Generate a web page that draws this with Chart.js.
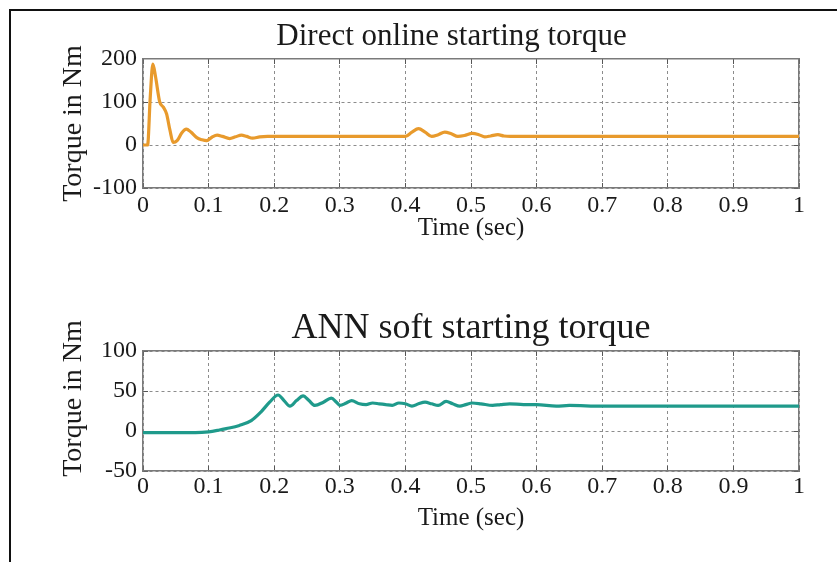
<!DOCTYPE html>
<html>
<head>
<meta charset="utf-8">
<script src="https://cdn.jsdelivr.net/npm/chart.js@4"></script>
<style>
    html, body { margin: 0; padding: 0; background: #fff; }
    #page { position: relative; width: 837px; height: 562px; overflow: hidden; }
    #frame { position: absolute; left: 9px; top: 9px; width: 840px; height: 560px;
             border-left: 2px solid #111; border-top: 2px solid #111; }
    canvas { position: absolute; left: 0; }
    #topCanvasId { top: 0; }
    #bottomCanvasId { top: 280px; }
</style>
</head>
<body>
<div id="page">
    <div id="frame"></div>
    <canvas id="topCanvasId" width="837" height="280"></canvas>
    <canvas id="bottomCanvasId" width="837" height="282"></canvas>
</div>
<script>
// direct online start
let directTime   = [0, 0.007, 0.011, 0.015, 0.019, 0.0255, 0.031, 0.036, 0.041, 0.046, 0.052, 0.059, 0.066, 0.073,
                    0.082, 0.09, 0.097, 0.105, 0.113, 0.121, 0.132, 0.141, 0.15, 0.158, 0.167, 0.178, 0.19, 0.3,
                    0.4, 0.41, 0.42, 0.43, 0.44, 0.45, 0.46, 0.47, 0.48, 0.49, 0.502, 0.512, 0.521, 0.53, 0.541,
                    0.55, 0.56, 0.7, 0.85, 1.0];
let directTorque = [0, 0, 110, 188, 160, 100, 88, 72, 35, 6, 10, 28, 37, 30,
                    17, 12, 10, 18, 23, 20, 15, 19, 23, 20, 16, 19, 20, 20,
                    20, 30, 38, 30, 20, 24, 30, 26, 20, 22, 27, 24, 19, 21, 24,
                    21, 20, 20, 20, 20];

// ANN soft start
let softTime   = [0, 0.05, 0.08, 0.1, 0.115, 0.127, 0.147, 0.165, 0.18, 0.193, 0.206, 0.215, 0.224, 0.234, 0.244,
                  0.253, 0.262, 0.275, 0.287, 0.295, 0.3, 0.31, 0.318, 0.33, 0.34, 0.35, 0.36, 0.37, 0.38, 0.39,
                  0.4, 0.41, 0.42, 0.43, 0.44, 0.45, 0.462, 0.472, 0.483, 0.492, 0.502, 0.515, 0.533, 0.545,
                  0.559, 0.58, 0.6, 0.63, 0.65, 0.7, 0.8, 0.9, 1.0];
let softTorque = [-2, -2, -2, -1, 1, 3, 7, 13, 24, 36, 45, 38, 31, 38, 44,
                  38, 32, 36, 41, 36, 32, 35, 38, 34, 33, 35, 34, 33, 32, 35,
                  34, 31, 34, 36, 34, 32, 37, 34, 31, 33, 35, 34, 32, 33,
                  34, 33, 33, 31, 32, 31, 31, 31, 31];

let xTicks = [0, 0.1, 0.2, 0.3, 0.4, 0.5, 0.6, 0.7, 0.8, 0.9, 1];

const serif = "'Liberation Serif', 'Times New Roman', serif";
const textColor = "#1a1a1a";

window.addEventListener("DOMContentLoaded", init);

// rotated y title, drawn where the reference has it
const sideTitle = {
    id: "sideTitle",
    afterDraw(chart, args, opts) {
        const ctx = chart.ctx;
        ctx.save();
        ctx.translate(opts.x, opts.y);
        ctx.rotate(-Math.PI / 2);
        ctx.font = opts.size + "px " + serif;
        ctx.fillStyle = textColor;
        ctx.textAlign = "center";
        ctx.textBaseline = "middle";
        ctx.fillText(opts.text, 0, 0);
        ctx.restore();
    }
};

function points(xs, ys) {
    return xs.map((x, i) => ({x: x, y: ys[i]}));
}

function makeChart(canvas, cfg) {
    const frameTick = {display: true, drawOnChartArea: false, drawTicks: true, tickLength: -5, tickColor: "#555"};
    return new Chart(canvas, {
        type: "line",
        data: {
            datasets: [{
                data: points(cfg.xs, cfg.ys),
                borderColor: cfg.color,
                borderWidth: 3.2,
                pointRadius: 0,
                cubicInterpolationMode: "monotone",
                fill: false
            }]
        },
        plugins: [sideTitle],
        options: {
            responsive: false,
            animation: false,
            events: [],
            // left padding only shifts the centre of the full-width title
            layout: {padding: {left: cfg.padLeft, right: 0, top: 0, bottom: 0}},
            plugins: {
                legend: {display: false},
                tooltip: {enabled: false},
                title: {
                    display: true,
                    fullSize: cfg.titleFull,
                    text: cfg.title,
                    color: textColor,
                    font: {family: serif, size: cfg.titleSize, weight: "normal", lineHeight: 1.2},
                    padding: cfg.titlePad
                },
                sideTitle: {text: "Torque in Nm", size: 28, x: 74, y: cfg.sideY}
            },
            scales: {
                x: {
                    type: "linear", position: "bottom", min: 0, max: 1,
                    afterBuildTicks: s => { s.ticks = xTicks.map(v => ({value: v})); },
                    afterFit: s => { s.height = cfg.xHeight; },
                    ticks: {color: textColor, font: {family: serif, size: 24}, padding: cfg.xTickPad, maxRotation: 0,
                            callback: v => String(v)},
                    grid: {color: "#8c8c8c", lineWidth: 1, drawTicks: true, tickLength: -5, tickColor: "#555"},
                    border: {display: true, color: "#7a7a7a", width: 1.5, dash: [3, 3]},
                    title: {display: true, text: "Time (sec)", color: textColor,
                            font: {family: serif, size: 25, lineHeight: 1.2}, padding: {top: 0, bottom: cfg.xTitlePad}}
                },
                x2: {
                    type: "linear", position: "top", min: 0, max: 1,
                    afterBuildTicks: s => { s.ticks = xTicks.map(v => ({value: v})); },
                    afterFit: s => { s.height = 0; },
                    ticks: {display: false},
                    grid: frameTick,
                    border: {display: true, color: "#7a7a7a", width: 1.5}
                },
                y: {
                    type: "linear", position: "left", min: cfg.yMin, max: cfg.yMax,
                    afterFit: s => { s.width = 143 - cfg.padLeft; },
                    ticks: {stepSize: cfg.yStep, color: textColor, font: {family: serif, size: 24}, padding: 11},
                    grid: {color: "#8c8c8c", lineWidth: 1, drawTicks: true, tickLength: -5, tickColor: "#555"},
                    border: {display: true, color: "#7a7a7a", width: 1.5, dash: [3, 3]}
                },
                y2: {
                    type: "linear", position: "right", min: cfg.yMin, max: cfg.yMax,
                    afterFit: s => { s.width = 38; },
                    ticks: {display: false, stepSize: cfg.yStep},
                    grid: frameTick,
                    border: {display: true, color: "#7a7a7a", width: 1.5}
                }
            }
        }
    });
}

function init() {
    makeChart(document.getElementById("topCanvasId"), {
        xs: directTime, ys: directTorque, color: "#E89A2C",
        title: "Direct online starting torque", titleSize: 31, titlePad: {top: 18.4, bottom: 3.4}, titleFull: true,
        yMin: -100, yMax: 200, yStep: 100, padLeft: 66,
        xHeight: 92, xTickPad: 8, xTitlePad: 36.4, sideY: 123.5
    });
    makeChart(document.getElementById("bottomCanvasId"), {
        xs: softTime, ys: softTorque, color: "#1F9A8B",
        title: "ANN soft starting torque", titleSize: 36, titlePad: {top: 26.6, bottom: 1.2}, titleFull: false,
        yMin: -50, yMax: 100, yStep: 50, padLeft: 0,
        xHeight: 91, xTickPad: 6, xTitlePad: 28.7, sideY: 118.5
    });
}
</script>
</body>
</html>
